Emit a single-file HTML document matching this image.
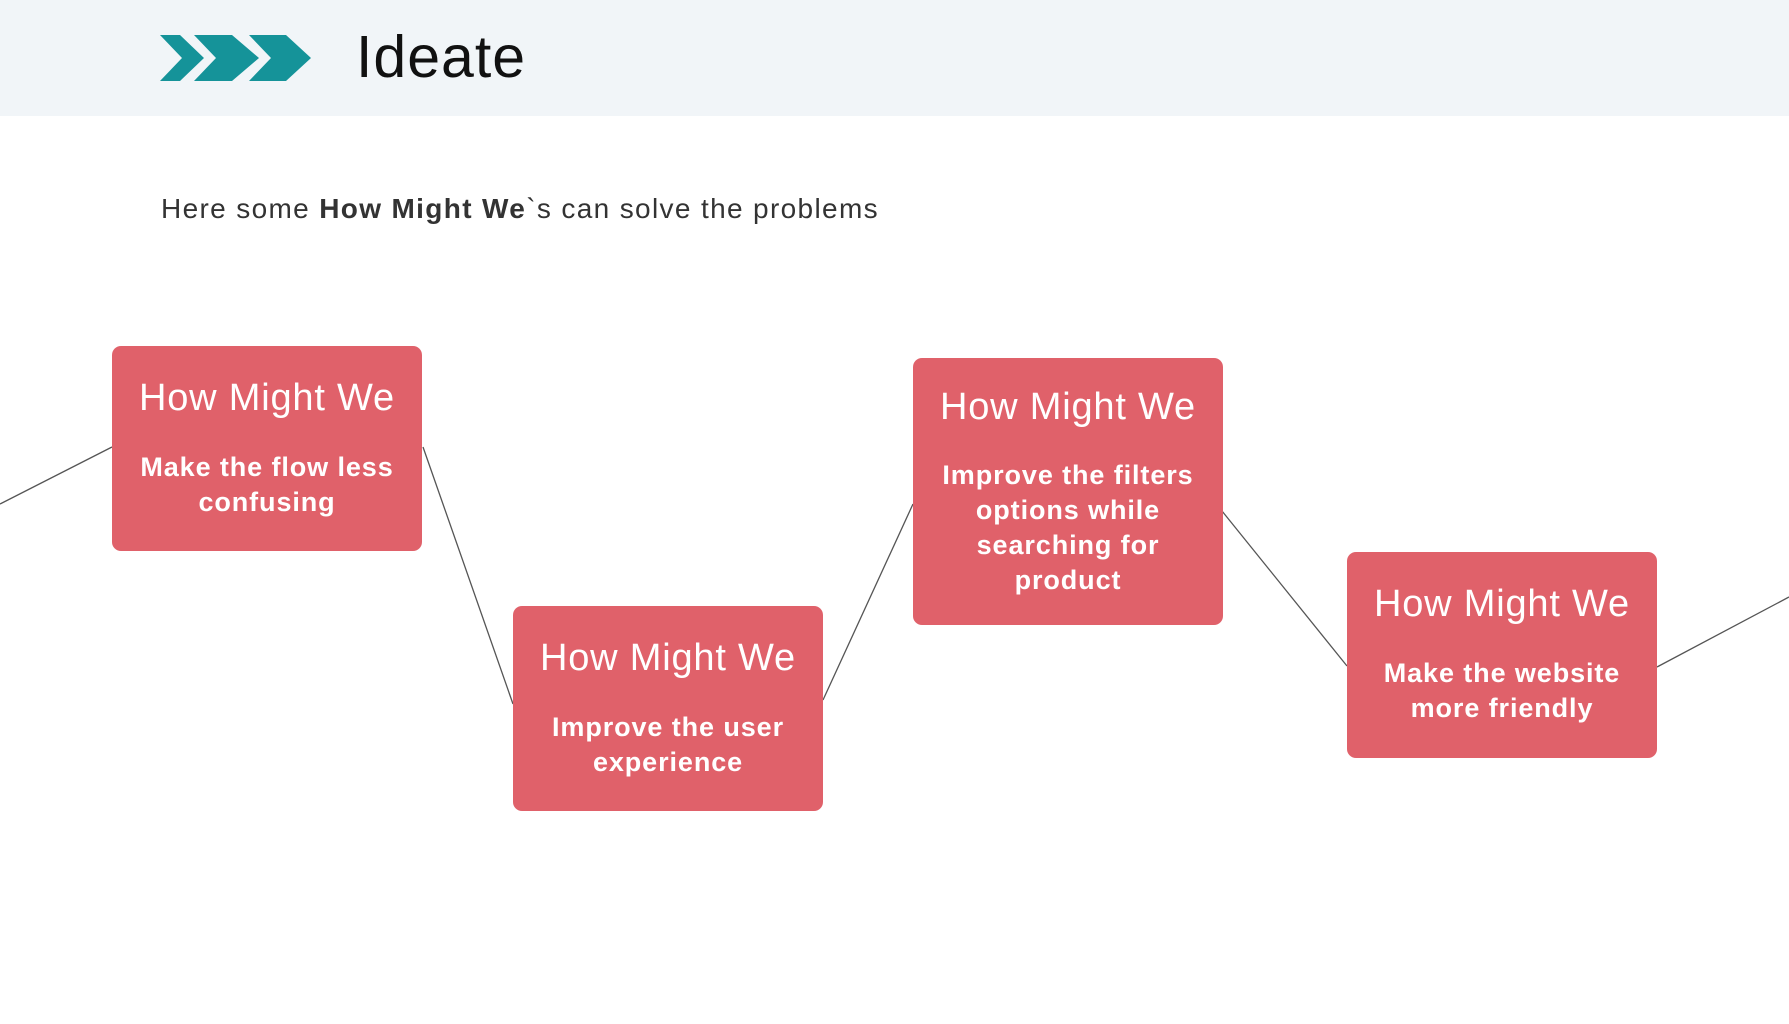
<!DOCTYPE html>
<html><head><meta charset="utf-8"><style>
*{margin:0;padding:0;box-sizing:border-box}
body{width:1789px;height:1024px;background:#fff;position:relative;overflow:hidden;font-family:"Liberation Sans",sans-serif}
.hdr{position:absolute;left:0;top:0;width:1789px;height:116px;background:#f1f5f8}
.ttl{position:absolute;left:356px;top:22px;font-size:59px;color:#111;line-height:70px;letter-spacing:1px}
.sub{position:absolute;left:161px;top:192px;font-size:28px;color:#333;line-height:34px;letter-spacing:1.35px}
.box{position:absolute;width:310px;background:#e0616a;border-radius:9px;color:#fff;text-align:center}
.box h2{position:absolute;left:0;right:0;font-weight:normal;font-size:38px;line-height:42px;letter-spacing:0.8px}
.box p{position:absolute;left:22px;right:22px;font-weight:bold;font-size:27px;line-height:35px;letter-spacing:0.9px}
</style></head><body>
<div class="hdr"></div>
<svg style="position:absolute;left:0;top:0" width="1789" height="1024">
<polygon points="160,35 180,35 204,58 180,81 160,81 182,58" fill="#159399"/>
<polygon points="194,35 232,35 259,58 232,81 194,81 216,58" fill="#159399"/>
<polygon points="249,35 286,35 311,58 286,81 249,81 271,58" fill="#159399"/>
<g stroke="#555" stroke-width="1.3" fill="none">
<line x1="0" y1="504" x2="112" y2="447"/>
<line x1="423" y1="447" x2="513" y2="704"/>
<line x1="823" y1="700" x2="913" y2="504"/>
<line x1="1222" y1="511" x2="1347" y2="666"/>
<line x1="1657" y1="667" x2="1789" y2="597"/>
</g></svg>
<div class="ttl">Ideate</div>
<div class="sub">Here some <b>How Might We</b>`s can solve the problems</div>
<div class="box" style="left:112px;top:346px;height:205px"><h2 style="top:31px">How Might We</h2><p style="top:104px">Make the flow less confusing</p></div>
<div class="box" style="left:513px;top:606px;height:205px"><h2 style="top:31px">How Might We</h2><p style="top:104px">Improve the user experience</p></div>
<div class="box" style="left:913px;top:358px;height:267px"><h2 style="top:28px">How Might We</h2><p style="top:100px">Improve the filters options while searching for product</p></div>
<div class="box" style="left:1347px;top:552px;height:206px"><h2 style="top:31px">How Might We</h2><p style="top:104px">Make the website more friendly</p></div>
</body></html>
